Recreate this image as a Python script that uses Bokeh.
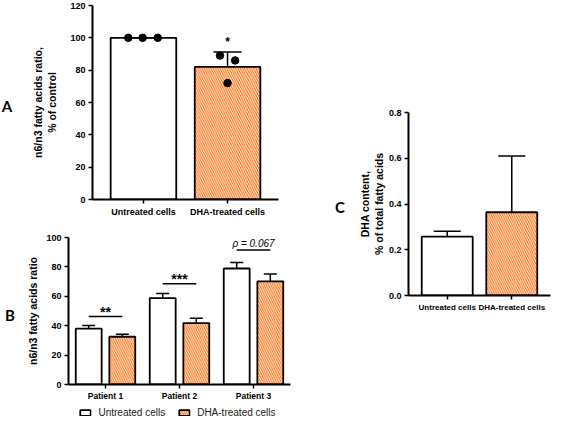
from bokeh.plotting import figure
from bokeh.layouts import row, column
from bokeh.models import (ColumnDataSource, FactorRange, Range1d, FixedTicker, Whisker,
                          TeeHead, Legend, LegendItem, PrintfTickFormatter, Div)
from bokeh.transform import dodge
from bokeh.core.properties import value
from bokeh.embed import file_html
from bokeh.resources import INLINE

FONT = "Liberation Sans"
ORANGE = "#FF6600"

# panel A: n6/n3 ratio, % of control
a_groups = ["Untreated cells", "DHA-treated cells"]
a_means = [100, 82]
a_sd = [0, 9.3]
a_points = [[100, 100, 100], [89, 86, 72]]
a_jitter = [[-0.18, -0.01, 0.17], [-0.09, 0.09, 0.0]]
a_star = ["*"]
a_star_y = [97.5]
a_yticks = [0, 20, 40, 60, 80, 100, 120]
a_ylabel = "n6/n3 fatty acids ratio,\n% of control"

# panel B: per patient
patients = ["Patient 1", "Patient 2", "Patient 3"]
b_untreated = [38.0, 58.8, 78.9]
b_untreated_err = [2.1, 3.1, 4.1]
b_dha = [32.5, 41.8, 70.1]
b_dha_err = [1.7, 3.3, 5.1]
b_sig_line = [46.2, 68.6, 91.5]
b_sig_text = ["**", "***", "ρ = 0.067"]
b_sig_text_y = [49.5, 72.0, 96.0]
b_yticks = [0, 20, 40, 60, 80, 100]
b_ylabel = "n6/n3 fatty acids ratio"
series_names = ["Untreated cells", "DHA-treated cells"]

# panel C: DHA content
c_groups = ["Untreated cells", "DHA-treated cells"]
c_means = [0.257, 0.364]
c_sd = [0.024, 0.246]
c_yticks = [0.0, 0.2, 0.4, 0.6, 0.8]
c_ylabel = "DHA content,\n% of total fatty acids"


def base_fig(x_range, y_range, fw, fh, left, right, top, bottom, yticks, ylabel, standoff):
    p = figure(x_range=x_range, y_range=y_range, frame_width=fw, frame_height=fh,
               min_border_left=left, min_border_right=right,
               min_border_top=top, min_border_bottom=bottom,
               output_backend="svg", toolbar_location=None, tools="")
    p.outline_line_color = None
    p.grid.grid_line_color = None
    for ax in p.axis:
        ax.axis_line_width = 2
        ax.axis_line_color = "black"
        ax.major_tick_line_width = 1.5
        ax.major_tick_out = 4
        ax.major_tick_in = 0
        ax.minor_tick_line_color = None
        ax.major_label_text_font = FONT
        ax.major_label_text_font_style = "bold"
        ax.major_label_text_font_size = "9px"
        ax.major_label_text_color = "black"
        ax.major_label_standoff = 3
    p.yaxis.ticker = FixedTicker(ticks=yticks)
    p.yaxis.axis_label = ylabel
    p.yaxis.axis_label_text_font = FONT
    p.yaxis.axis_label_text_font_style = "bold"
    p.yaxis.axis_label_text_font_size = "10.5px"
    p.yaxis.axis_label_text_color = "black"
    p.yaxis.axis_label_standoff = standoff
    return p


def panel_letter(text, top, left=0):
    return Div(text=text, width=14, height=20, margin=(top, 0, 0, left),
               styles={"font-family": "Lato", "font-weight": "bold",
                       "font-size": "15px", "text-align": "center", "line-height": "18px"})


hatch = dict(hatch_color="white", hatch_weight=0.95, hatch_scale=4.5)

# ---------- A ----------
pA = base_fig(FactorRange(*a_groups, range_padding=0.106, range_padding_units="absolute"),
              Range1d(0, 120), 186, 194, 78, 14, 5, 21, a_yticks, a_ylabel, 9)
srcA = ColumnDataSource(dict(group=a_groups, mean=a_means,
                             upper=[m + s for m, s in zip(a_means, a_sd)],
                             fill=["white", ORANGE], pattern=["blank", "left_diagonal_line"]))
pA.vbar(x="group", top="mean", width=0.78, source=srcA, fill_color="fill",
        hatch_pattern="pattern", line_color="black", line_width=1.8, **hatch)
pA.add_layout(Whisker(base="group", upper="upper", lower="mean", source=srcA,
                      line_width=1.5, line_color="black", level="overlay",
                      upper_head=TeeHead(size=28, line_width=1.5), lower_head=None))
for gi, g in enumerate(a_groups):
    for yv, dx in zip(a_points[gi], a_jitter[gi]):
        s = ColumnDataSource(dict(group=[g], y=[yv]))
        pA.scatter(x=dodge("group", dx, range=pA.x_range), y="y", source=s,
                   size=7.5, color="black")
pA.text(x=[a_groups[1]], y=a_star_y, text=a_star, text_align="center",
        text_baseline="alphabetic", text_font=value(FONT), text_font_style="bold",
        text_font_size="12px", color="black")

# ---------- B ----------
pB = base_fig(FactorRange(*patients), Range1d(0, 100), 222, 147, 51, 2, 17, 18,
              b_yticks, b_ylabel, 4)
pB.xaxis.major_label_text_font_size = "8.5px"
pB.xaxis.major_label_standoff = 2
srcB = ColumnDataSource(dict(patient=patients, u=b_untreated,
                             u_up=[v + e for v, e in zip(b_untreated, b_untreated_err)],
                             d=b_dha, d_up=[v + e for v, e in zip(b_dha, b_dha_err)],
                             sig=b_sig_line))
xu = dodge("patient", -0.227, range=pB.x_range)
xd = dodge("patient", 0.227, range=pB.x_range)
bar_u = dict(fill_color="white", line_color="black", line_width=1.8)
bar_d = dict(fill_color=ORANGE, hatch_pattern="left_diagonal_line", line_color="black",
             line_width=1.8, **hatch)
pB.vbar(x=xu, top="u", width=0.35, source=srcB, **bar_u)
pB.vbar(x=xd, top="d", width=0.35, source=srcB, **bar_d)
for base, lo, up in ((xu, "u", "u_up"), (xd, "d", "d_up")):
    pB.add_layout(Whisker(base=base, upper=up, lower=lo, source=srcB, line_width=1.5,
                          line_color="black", level="overlay",
                          upper_head=TeeHead(size=13, line_width=1.5), lower_head=None))
pB.segment(x0=xu, x1=xd, y0="sig", y1="sig", source=srcB, line_width=1.5, color="black")
pB.text(x=patients[:2], y=b_sig_text_y[:2], text=b_sig_text[:2], text_align="center",
        text_baseline="alphabetic", text_font=value(FONT), text_font_style="bold",
        text_font_size="14px", color="black")
pB.text(x=patients[2:], y=b_sig_text_y[2:], text=b_sig_text[2:], text_align="center",
        text_baseline="alphabetic", text_font=value(FONT), text_font_style="italic",
        text_font_size="10px", color="black")

# legend strip under panel B: same bars, hidden, only used for the legend swatches
pL = figure(x_range=pB.x_range, y_range=pB.y_range, frame_width=226, frame_height=15,
            min_border_left=64, min_border_right=2, min_border_top=0, min_border_bottom=0,
            x_axis_location=None, y_axis_location=None, output_backend="svg",
            toolbar_location=None, tools="")
pL.outline_line_color = None
pL.grid.grid_line_color = None
rU = pL.vbar(x=xu, top="u", width=0.35, source=srcB, visible=False, **bar_u)
rD = pL.vbar(x=xd, top="d", width=0.35, source=srcB, visible=False, **bar_d)
pL.add_layout(Legend(items=[LegendItem(label=series_names[0], renderers=[rU]),
                            LegendItem(label=series_names[1], renderers=[rD])],
                     orientation="horizontal", location="bottom_center", glyph_width=13,
                     glyph_height=7, label_text_font=FONT, label_text_font_size="10px",
                     label_text_color="#222222", label_standoff=7, label_height=11,
                     spacing=12, padding=0, margin=0, click_policy="none",
                     border_line_color=None, background_fill_alpha=0))

# ---------- C ----------
pC = base_fig(FactorRange(*c_groups, range_padding=0.1, range_padding_units="absolute"),
              Range1d(0, 0.8), 142, 183, 61, 1, 112, 122, c_yticks, c_ylabel, 1)
pC.xaxis.major_label_text_font_size = "8px"
pC.yaxis.formatter = PrintfTickFormatter(format="%.1f")
srcC = ColumnDataSource(dict(group=c_groups, mean=c_means,
                             upper=[m + s for m, s in zip(c_means, c_sd)],
                             fill=["white", ORANGE], pattern=["blank", "left_diagonal_line"]))
pC.vbar(x="group", top="mean", width=0.79, source=srcC, fill_color="fill",
        hatch_pattern="pattern", line_color="black", line_width=1.8, **hatch)
pC.add_layout(Whisker(base="group", upper="upper", lower="mean", source=srcC,
                      line_width=1.5, line_color="black", level="overlay",
                      upper_head=TeeHead(size=27, line_width=1.5), lower_head=None))

left_col = column(row(panel_letter("A", 97), pA), row(panel_letter("B", 86, 3), pB), pL)
layout = row(left_col, row(panel_letter("C", 198, 41), pC))
open("out.html", "w").write(file_html(layout, INLINE))
